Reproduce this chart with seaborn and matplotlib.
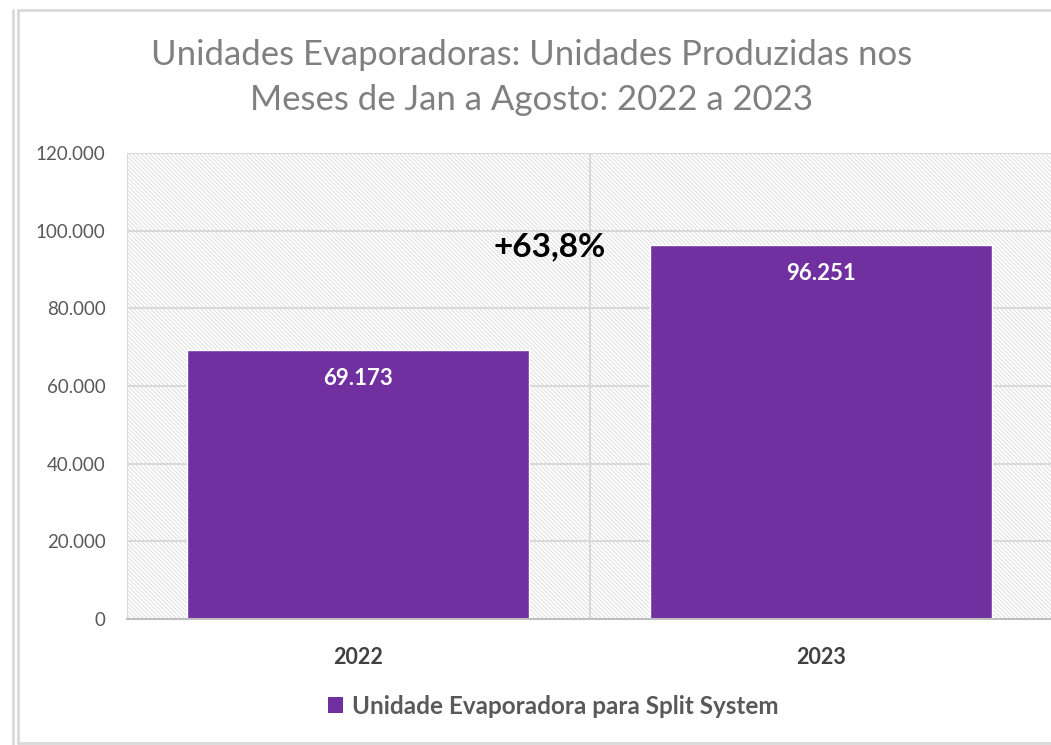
import matplotlib
matplotlib.use("Agg")
import matplotlib.pyplot as plt
import seaborn as sns
import pandas as pd
from matplotlib.patches import Rectangle, Patch
from matplotlib.lines import Line2D

# ---- data ----
anos = ["2022", "2023"]
valores = [69173, 96251]
rotulos = ["69.173", "96.251"]
yticks = [0, 20000, 40000, 60000, 80000, 100000, 120000]
ytick_labels = ["0", "20.000", "40.000", "60.000", "80.000", "100.000", "120.000"]
serie = "Unidade Evaporadora para Split System"
titulo_l1 = "Unidades Evaporadoras: Unidades Produzidas nos"
titulo_l2 = "Meses de Jan a Agosto: 2022 a 2023"
variacao = "+63,8%"

sns.set_theme(style="white")
plt.rcParams["font.family"] = ["Lato", "DejaVu Sans"]
plt.rcParams["hatch.linewidth"] = 0.6
plt.rcParams["hatch.color"] = "#d9d9d9"

W, H = 1051, 745
fig = plt.figure(figsize=(W / 100, H / 100), dpi=100)
fig.patch.set_facecolor("white")

left, right, top, bottom = 126.5, 1052.5, 153, 619
ax = fig.add_axes([left / W, 1 - bottom / H, (right - left) / W, (bottom - top) / H])

df = pd.DataFrame({"ano": anos, "valor": valores})
purple = "#7030A0"
sns.barplot(data=df, x="ano", y="valor", color=purple, saturation=1, width=0.74, ax=ax, zorder=2)

# hatched plot-area background
bg = Rectangle((0, 0), 1, 1, transform=ax.transAxes, facecolor="white",
               edgecolor="#d9d9d9", hatch="\\" * 8, lw=0, zorder=0)
ax.add_patch(bg)

ax.set_xlim(-0.5, 1.5)
ax.set_ylim(0, 120000)
ax.set_yticks(yticks)
ax.set_yticklabels(ytick_labels)
ax.set_xlabel("")
ax.set_ylabel("")

# gridlines
for y in yticks[1:]:
    ax.axhline(y, color="#d9d9d9", lw=1.5, zorder=1)
for x in [-0.5, 0.5, 1.5]:
    ax.axvline(x, color="#d9d9d9", lw=1.5, zorder=1)

for s in ["top", "right", "left"]:
    ax.spines[s].set_visible(False)
ax.spines["bottom"].set_color("#bfbfbf")
ax.spines["bottom"].set_linewidth(1.5)
ax.spines["bottom"].set_zorder(3)

ax.tick_params(axis="y", length=0, pad=15, labelsize=13.5, labelcolor="#595959")
ax.tick_params(axis="x", which="major", length=0, pad=20, labelsize=15.5, labelcolor="#404040")
for t in ax.get_xticklabels():
    t.set_fontweight("bold")
ax.set_xticks([-0.5, 0.5, 1.5], minor=True)
ax.tick_params(axis="x", which="minor", length=7, width=1.5, color="#d9d9d9", direction="out")

# bar labels
for i, (v, lab) in enumerate(zip(valores, rotulos)):
    ax.annotate(lab, xy=(i, v), xytext=(0, -20), textcoords="offset points",
                ha="center", va="center", color="white", fontsize=16, fontweight="bold", zorder=4)

# variation annotation
ax.text(550 / W, 1 - 247 / H, variacao, transform=fig.transFigure, ha="center", va="center",
        fontsize=24, fontweight="bold", color="black")

# title
fig.text(532 / W, 1 - 55 / H, titulo_l1, ha="center", va="center", fontsize=25,
         color="#808080")
fig.text(532 / W, 1 - 100 / H, titulo_l2, ha="center", va="center", fontsize=25,
         color="#808080")

# legend
fig.legend(handles=[Patch(facecolor=purple, edgecolor="none")], labels=[serie],
           loc="center", bbox_to_anchor=(553 / W, 1 - 706 / H), frameon=False,
           handlelength=0.65, handleheight=0.65, handletextpad=0.35,
           prop={"weight": "bold", "size": 17.5}, labelcolor="#595959")

# outer frame lines
fc = "#d9d9d9"
fig.add_artist(Line2D([13 / W, 13 / W], [0, 1 - 10 / H], color=fc, lw=2, transform=fig.transFigure))
fig.add_artist(Line2D([18 / W, 18 / W], [1 - 743 / H, 1 - 10 / H], color=fc, lw=2, transform=fig.transFigure))
fig.add_artist(Line2D([18 / W, 1], [1 - 10 / H, 1 - 10 / H], color=fc, lw=2, transform=fig.transFigure))
fig.add_artist(Line2D([18 / W, 1], [1 - 743 / H, 1 - 743 / H], color=fc, lw=2, transform=fig.transFigure))

fig.savefig("out.png", dpi=100, facecolor="white")
